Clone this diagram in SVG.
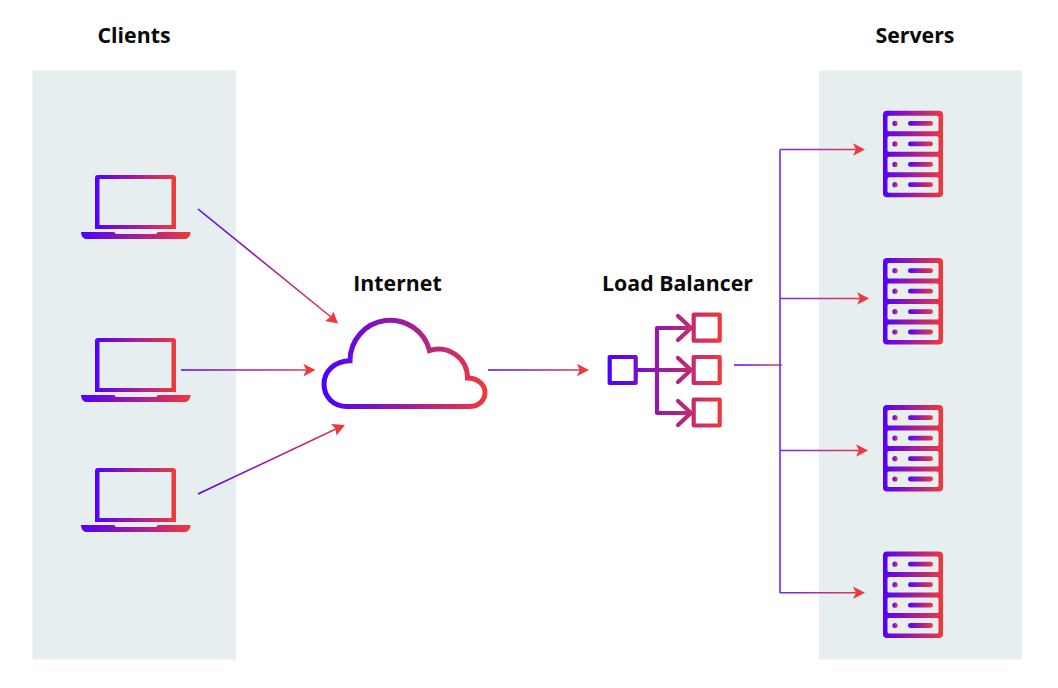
<svg xmlns="http://www.w3.org/2000/svg" xmlns:xlink="http://www.w3.org/1999/xlink" width="1058" height="688" viewBox="0 0 1058 688">
<style>
.panel{fill:#e6eeef}
.lbl{font-family:"Open Sans","Liberation Sans",sans-serif;font-weight:700;font-size:21.3px;fill:#0a0a0a;text-anchor:middle}
.conn{fill:none;stroke-width:1.6}
.fillg{fill:url(#iconGrad)}
.cut{fill:#e6eeef}
.head{fill:#ea3a40}
</style>
<defs>
<linearGradient id="iconGrad" x1="0" y1="0" x2="1" y2="0"><stop offset="0" stop-color="#5000ff"/><stop offset="1" stop-color="#f03a3a"/></linearGradient>
<linearGradient id="g1" gradientUnits="userSpaceOnUse" x1="198" y1="209" x2="338" y2="323"><stop offset="0" stop-color="#5500ff"/><stop offset="1" stop-color="#f03a3a"/></linearGradient>
<linearGradient id="g2" gradientUnits="userSpaceOnUse" x1="181" y1="370" x2="315" y2="370"><stop offset="0" stop-color="#5500ff"/><stop offset="1" stop-color="#f03a3a"/></linearGradient>
<linearGradient id="g3" gradientUnits="userSpaceOnUse" x1="198" y1="494" x2="345" y2="425"><stop offset="0" stop-color="#5500ff"/><stop offset="1" stop-color="#f03a3a"/></linearGradient>
<linearGradient id="g4" gradientUnits="userSpaceOnUse" x1="488" y1="370" x2="589" y2="370"><stop offset="0" stop-color="#5500ff"/><stop offset="1" stop-color="#f03a3a"/></linearGradient>
<linearGradient id="g5" gradientUnits="userSpaceOnUse" x1="734" y1="365" x2="782" y2="365"><stop offset="0" stop-color="#5500ff"/><stop offset="1" stop-color="#f03a3a"/></linearGradient>
<linearGradient id="g6" gradientUnits="userSpaceOnUse" x1="780" y1="0" x2="866" y2="0"><stop offset="0" stop-color="#6a28ff"/><stop offset="1" stop-color="#f03a3a"/></linearGradient>
<linearGradient id="cloudGrad" gradientUnits="userSpaceOnUse" x1="322" y1="0" x2="487" y2="0"><stop offset="0" stop-color="#4a00ff"/><stop offset="1" stop-color="#f03a3a"/></linearGradient>
<linearGradient id="lbGrad" gradientUnits="userSpaceOnUse" x1="608" y1="0" x2="722" y2="0"><stop offset="0" stop-color="#4a00ff"/><stop offset="1" stop-color="#f03a3a"/></linearGradient>
<g id="laptop">
<path class="fillg" fill-rule="evenodd" d="M98 0H173a3 3 0 0 1 3 3V54H95V3a3 3 0 0 1 3-3ZM99.500 4V50H171.500V4Z"/>
<path class="fillg" d="M81 57H114l2 2H156l2-2H190.500c0 3-2 7-5 7H86c-3 0-5-4-5-7Z"/>
</g>
<g id="server">
<rect class="fillg" x="883" y="0" width="60" height="86.500" rx="4"/>
<rect class="cut" x="887.500" y="5" width="51" height="15.500" rx="1.500"/>
<rect class="cut" x="887.500" y="25.500" width="51" height="15.500" rx="1.500"/>
<rect class="cut" x="887.500" y="46" width="51" height="15.500" rx="1.500"/>
<rect class="cut" x="887.500" y="66.500" width="51" height="15.500" rx="1.500"/>
<circle class="fillg" cx="895" cy="12.700" r="2.600"/><rect class="fillg" x="908" y="10.300" width="25" height="4.800" rx="2.400"/>
<circle class="fillg" cx="895" cy="33.200" r="2.600"/><rect class="fillg" x="908" y="30.800" width="25" height="4.800" rx="2.400"/>
<circle class="fillg" cx="895" cy="53.700" r="2.600"/><rect class="fillg" x="908" y="51.300" width="25" height="4.800" rx="2.400"/>
<circle class="fillg" cx="895" cy="74" r="2.600"/><rect class="fillg" x="908" y="71.600" width="25" height="4.800" rx="2.400"/>
</g>
</defs>
<rect width="1058" height="688" fill="#fff"/>
<rect class="panel" x="32.500" y="70.500" width="203.500" height="589"/>
<rect class="panel" x="819" y="70.500" width="203" height="589"/>
<text class="lbl" x="134" y="43">Clients</text>
<text class="lbl" x="915" y="43">Servers</text>
<text class="lbl" x="397.500" y="291">Internet</text>
<text class="lbl" x="677.500" y="291">Load Balancer</text>

<g id="connectors">
<path class="conn" stroke="url(#g1)" d="M198 209L331 317"/>
<path class="head" d="M338 323.500L325 321L331 316.500L333.300 311.500Z"/>
<path class="conn" stroke="url(#g2)" d="M181 370H308"/>
<path class="head" d="M315.500 370L303.300 363.800L306.300 370L303.300 376.500Z"/>
<path class="conn" stroke="url(#g3)" d="M198 494L338 428"/>
<path class="head" d="M345 425L331 424L335.500 428.500L336.500 435.500Z"/>
<path class="conn" stroke="url(#g4)" d="M488 370H582"/>
<path class="head" d="M589 370L576.800 363.800L579.800 370L576.800 376.200Z"/>
<path class="conn" stroke="url(#g5)" d="M734 365H782"/>
<path class="conn" stroke="#6a28ff" d="M780 150V593"/>
<path class="conn" stroke="url(#g6)" d="M780 149.500H858"/>
<path class="conn" stroke="url(#g6)" d="M780 298.500H862"/>
<path class="conn" stroke="url(#g6)" d="M780 450.500H861"/>
<path class="conn" stroke="url(#g6)" d="M780 592.700H858"/>
<path class="head" d="M865 149.500L853 143.200L856 149.500L853 155.800Z"/>
<path class="head" d="M869 298.500L857 292.200L860 298.500L857 304.800Z"/>
<path class="head" d="M868 450.500L856 444.200L859 450.500L856 456.800Z"/>
<path class="head" d="M865 592.700L853 586.400L856 592.700L853 599Z"/>
</g>

<g id="client-1"><use href="#laptop" y="175"/></g>
<g id="client-2"><use href="#laptop" y="338"/></g>
<g id="client-3"><use href="#laptop" y="468"/></g>

<g id="internet">
<path fill="none" stroke="url(#cloudGrad)" stroke-width="5" stroke-linejoin="miter" stroke-miterlimit="3" d="M347 406.500C333 406.500 324 396.500 324 384C324 371 335 361 350 360.700A40.400 40.400 0 0 1 429.500 350.500A29 29 0 0 1 467.500 378C478 378 485 385 485 392.500C485 400 479 406.500 469 406.500Z"/>
</g>

<g id="load-balancer" fill="none" stroke="url(#lbGrad)" stroke-width="4.200" stroke-linecap="round" stroke-linejoin="round">
<rect x="609.700" y="357" width="26" height="26"/>
<rect x="693.700" y="314.700" width="26" height="26"/>
<rect x="693.700" y="357" width="26" height="26"/>
<rect x="693.700" y="399.500" width="26" height="26"/>
<path d="M637 370H691M691 328H657V413H691M678 316L691 328L678 340M678 358L691 370L678 382M678 401L691 413L678 425"/>
</g>

<g id="server-1"><use href="#server" y="110.700"/></g>
<g id="server-2"><use href="#server" y="258"/></g>
<g id="server-3"><use href="#server" y="405"/></g>
<g id="server-4"><use href="#server" y="551.500"/></g>
</svg>
